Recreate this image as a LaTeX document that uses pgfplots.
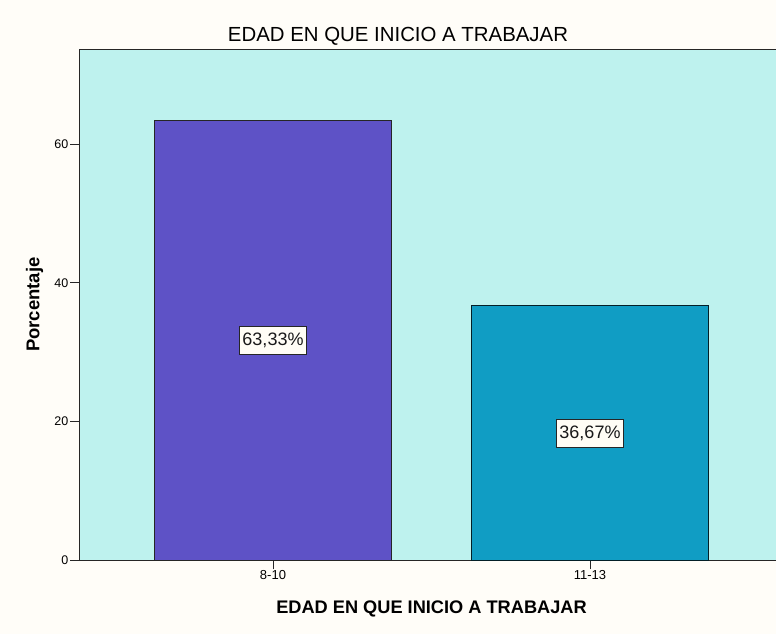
\documentclass[border=0pt]{standalone}
\usepackage{fontspec}
\setmainfont{Liberation Sans}
\usepackage{pgfplots}
\pgfplotsset{compat=1.18}
\definecolor{pagebg}{HTML}{FFFDF8}
\definecolor{plotbg}{HTML}{BEF2EE}
\definecolor{barA}{HTML}{5E52C6}
\definecolor{barB}{HTML}{109DC4}
\definecolor{lblbg}{HTML}{FFFDF5}
\begin{document}
\begin{tikzpicture}
\path[use as bounding box, fill=pagebg] (0,0) rectangle (776bp,634bp);
\clip (0,0) rectangle (776bp,634bp);
\begin{axis}[
  at={(79bp,73.6bp)}, anchor=south west,
  scale only axis, width=705bp, height=511.4bp,
  xmin=-0.612, xmax=1.612, ymin=0, ymax=73.7,
  axis background/.style={fill=plotbg},
  axis line style={draw=black!85, line width=0.9bp},
  xtick={0,1}, xticklabels={8-10,11-13},
  ytick={0,20,40,60},
  xtick pos=bottom, ytick pos=left,
  tick align=outside, major tick length=9bp,
  tick style={black!85, line width=0.9bp},
  /pgf/number format/assume math mode=true,
  xticklabel style={font=\fontsize{13bp}{15bp}\selectfont, inner sep=1bp},
  yticklabel style={font=\fontsize{12.5bp}{14bp}\selectfont, inner sep=1.5bp},
  every axis x label/.style={at={(axis description cs:0.5,0)}, anchor=base, yshift=-52.6bp, font=\fontsize{18.2bp}{21bp}\selectfont\bfseries},
  every axis y label/.style={at={(axis description cs:0,0.5)}, anchor=center, rotate=90, yshift=44.5bp, font=\fontsize{18.5bp}{21bp}\selectfont\bfseries},
  xlabel={EDAD EN QUE INICIO A TRABAJAR},
  ylabel={Porcentaje},
  clip=false,
]
\addplot[ybar, bar width=0.75, bar shift=0pt, fill=barA, draw=black!85, line width=0.9bp] coordinates {(0,63.33)};
\addplot[ybar, bar width=0.75, bar shift=0pt, fill=barB, draw=black!80!barB, line width=0.9bp] coordinates {(1,36.67)};
\addplot[draw=none, mark=none, point meta=explicit,
  nodes near coords={\pgfmathprintnumber[fixed,precision=2,fixed zerofill,use comma]{\pgfplotspointmeta}\%},
  nodes near coords align=center,
  every node near coord/.style={anchor=center, fill=lblbg, draw=black!85, line width=0.9bp, inner xsep=3bp, inner ysep=0pt, minimum height=28bp, font=\fontsize{18bp}{20bp}\selectfont, text=black!90}]
  coordinates {(0,31.665)[63.33] (1,18.335)[36.67]};
\end{axis}
\node[anchor=base, font=\fontsize{20.4bp}{24bp}\selectfont] at (398bp,592.3bp) {EDAD EN QUE INICIO A TRABAJAR};
\end{tikzpicture}
\end{document}
